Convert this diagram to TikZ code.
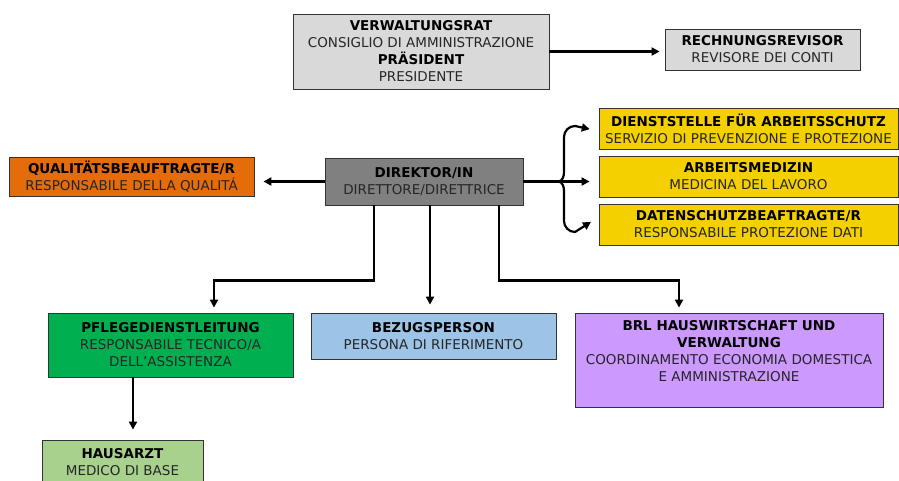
\documentclass[tikz,border=0pt]{standalone}
\usepackage{fontspec}
\setmainfont{DejaVu Sans}
\usetikzlibrary{arrows.meta}

\definecolor{boardgray}{HTML}{D9D9D9}
\definecolor{dirgray}{HTML}{808080}
\definecolor{qualorange}{HTML}{E46C0A}
\definecolor{safetyyellow}{HTML}{F5D000}
\definecolor{careGreen}{HTML}{00B050}
\definecolor{refblue}{HTML}{9DC3E6}
\definecolor{adminviolet}{HTML}{CC99FF}
\definecolor{docgreen}{HTML}{A9D18E}
\definecolor{textgray}{HTML}{262626}

\begin{document}
\begin{tikzpicture}[x=1pt, y=-1pt,
                    font=\fontsize{13.5}{17}\selectfont,
                    unit/.style={draw=black!80, line width=0.8pt, align=center,
                                 text=textgray, inner sep=1pt},
                    conn/.style={line width=2.2pt, black},
                    arrow/.style={conn, -{Triangle[length=8pt, width=8pt]}}]
    \useasboundingbox (0,0) rectangle (899,480);

    \node[unit, fill=boardgray, minimum width=256pt, minimum height=75pt]
        (board) at (421,51.5)
        {\textbf{\color{black}VERWALTUNGSRAT}\\CONSIGLIO DI AMMINISTRAZIONE\\
         \textbf{\color{black}PRÄSIDENT}\\PRESIDENTE};
    \node[unit, fill=boardgray, minimum width=195pt, minimum height=41pt]
        (audit) at (762.5,49.5)
        {\textbf{\color{black}RECHNUNGSREVISOR}\\REVISORE DEI CONTI};
    \node[unit, fill=qualorange, minimum width=245pt, minimum height=39pt]
        (quality) at (131.5,176.5)
        {\textbf{\color{black}QUALITÄTSBEAUFTRAGTE/R}\\RESPONSABILE DELLA QUALITÁ};
    \node[unit, fill=dirgray, minimum width=198pt, minimum height=47pt]
        (director) at (424,181.5)
        {\textbf{\color{black}DIREKTOR/IN}\\DIRETTORE/DIRETTRICE};
    \node[unit, fill=safetyyellow, minimum width=299pt, minimum height=41pt]
        (safety) at (748.5,128.5)
        {\textbf{\color{black}DIENSTSTELLE FÜR ARBEITSSCHUTZ}\\SERVIZIO DI PREVENZIONE E PROTEZIONE};
    \node[unit, fill=safetyyellow, minimum width=299pt, minimum height=41pt]
        (medicine) at (748.5,176.5)
        {\textbf{\color{black}ARBEITSMEDIZIN}\\MEDICINA DEL LAVORO};
    \node[unit, fill=safetyyellow, minimum width=299pt, minimum height=41pt]
        (privacy) at (748.5,224.5)
        {\textbf{\color{black}DATENSCHUTZBEAFTRAGTE/R}\\RESPONSABILE PROTEZIONE DATI};
    \node[unit, fill=careGreen, minimum width=245pt, minimum height=64pt]
        (care) at (170.5,345)
        {\textbf{\color{black}PFLEGEDIENSTLEITUNG}\\RESPONSABILE TECNICO/A\\DELL’ASSISTENZA};
    \node[unit, fill=refblue, minimum width=245pt, minimum height=46pt]
        (contact) at (433.5,336)
        {\textbf{\color{black}BEZUGSPERSON}\\PERSONA DI RIFERIMENTO};
    \node[unit, fill=adminviolet, minimum width=308pt, minimum height=94pt]
        (admin) at (729,360)
        {\textbf{\color{black}BRL HAUSWIRTSCHAFT UND}\\\textbf{\color{black}VERWALTUNG}\\
         COORDINAMENTO ECONOMIA DOMESTICA\\E AMMINISTRAZIONE\\[2pt]~};
    \node[unit, fill=docgreen, minimum width=161pt, minimum height=44pt]
        (doctor) at (122.5,462)
        {\textbf{\color{black}HAUSARZT}\\MEDICO DI BASE};

    % top and side links
    \draw[arrow, shorten >=5pt] (board.east) -- (board.east -| audit.west);
    \draw[arrow, shorten >=9pt] (director.west) -- (director.west -| quality.east);

    % brace to the staff units
    \coordinate (fork) at (558,181.5);
    \draw[conn] (director.east) -- (fork);
    \draw[arrow, shorten >=9pt] (fork) -- (fork -| medicine.west);
    \draw[arrow, shorten >=9pt] (fork) to[out=0, in=-90] (564,172) -- (564,137)
        to[out=90, in=180] (575,126) -- ([yshift=-2.5pt]safety.west);
    \draw[arrow, shorten >=9pt] (fork) to[out=0, in=90] (564,191) -- (564,221)
        to[out=-90, in=180] (575,232) -- ([yshift=7.5pt]privacy.west);

    % lines down from the director
    \draw[arrow, shorten >=5pt] ([xshift=-50pt]director.south) -- ++(0,75)
        -| ([xshift=43.5pt]care.north);
    \draw[arrow, shorten >=8pt] ([xshift=6pt]director.south)
        -- ([xshift=6pt]director.south |- contact.north);
    \draw[arrow, shorten >=5pt] ([xshift=75pt]director.south) -- ++(0,75)
        -| ([xshift=-50pt]admin.north);
    \draw[arrow, shorten >=10pt] ([xshift=-37.5pt]care.south)
        -- ([xshift=-37.5pt]care.south |- doctor.north);
\end{tikzpicture}
\end{document}
